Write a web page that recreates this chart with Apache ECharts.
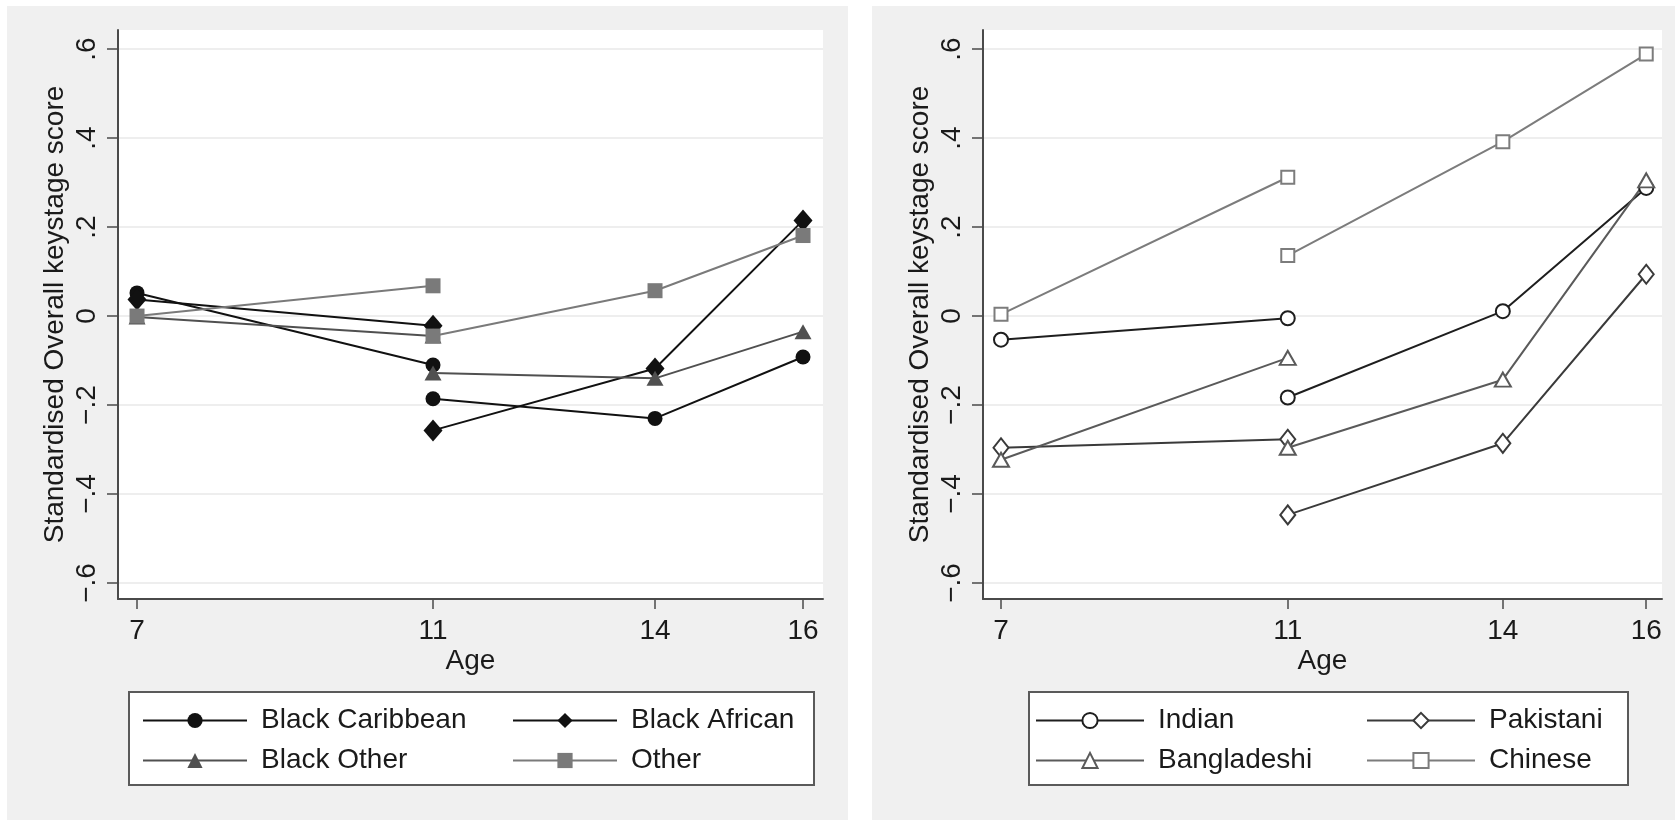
<!DOCTYPE html>
<html>
<head>
<meta charset="utf-8">
<title>Standardised keystage score by age</title>
<script src="https://cdn.jsdelivr.net/npm/echarts@6/dist/echarts.min.js"></script>
<style>
  html, body { margin: 0; padding: 0; background: #fff; }
  #main { width: 1675px; height: 820px; }
</style>
</head>
<body>
<div id="main"></div>
<script>
// ages of the two measurement runs (the line breaks at age 11)
var agesEarly = [7, 11];
var agesLate = [11, 14, 16];
var ageTicks = [7, 11, 14, 16];
var scoreTicks = [-0.6, -0.4, -0.2, 0, 0.2, 0.4, 0.6];

// left panel
var blackCaribbeanEarly = [0.052, -0.11];
var blackCaribbeanLate = [-0.186, -0.23, -0.092];
var blackAfricanEarly = [0.037, -0.022];
var blackAfricanLate = [-0.257, -0.118, 0.215];
var blackOtherEarly = [-0.002, -0.045];
var blackOtherLate = [-0.128, -0.14, -0.035];
var otherEarly = [0, 0.068];
var otherLate = [-0.045, 0.057, 0.181];

// right panel
var indianEarly = [-0.053, -0.005];
var indianLate = [-0.183, 0.011, 0.288];
var pakistaniEarly = [-0.296, -0.277];
var pakistaniLate = [-0.447, -0.286, 0.094];
var bangladeshiEarly = [-0.323, -0.094];
var bangladeshiLate = [-0.296, -0.143, 0.305];
var chineseEarly = [0.004, 0.312];
var chineseLate = [0.136, 0.392, 0.589];

var font = 'Liberation Sans';
var textColor = '#1a1a1a';
var axisColor = '#4a4a4a';

function segments(early, late) {
  var d = early.map(function (v, i) { return [agesEarly[i], v]; });
  d.push([agesLate[0], '-']);
  return d.concat(late.map(function (v, i) { return [agesLate[i], v]; }));
}

function scoreLabel(v) {
  if (Math.abs(v) < 1e-9) return '0';
  var s = Math.abs(v).toFixed(1).replace(/^0/, '');
  return v < 0 ? '\u2212' + s : s;
}

function makeSeries(name, idx, early, late, color, symbol, size, hollow) {
  return {
    name: name,
    type: 'line',
    xAxisIndex: idx,
    yAxisIndex: idx,
    data: segments(early, late),
    symbol: symbol,
    symbolSize: size,
    showAllSymbol: true,
    animation: false,
    lineStyle: { color: color, width: 2 },
    itemStyle: hollow ? { color: color, borderColor: color, borderWidth: 2 } : { color: color },
    emphasis: { disabled: true }
  };
}

function xAxisFor(idx, min, max) {
  return {
    type: 'value', gridIndex: idx, min: min, max: max,
    name: 'Age', nameLocation: 'middle', nameGap: 48, nameMoveOverlap: false,
    nameTextStyle: { fontFamily: font, fontSize: 28, color: textColor },
    axisLine: { onZero: false, lineStyle: { color: axisColor, width: 2 } },
    axisTick: { customValues: ageTicks, length: 10, lineStyle: { color: axisColor, width: 1.5 } },
    axisLabel: { customValues: ageTicks, margin: 18, fontFamily: font, fontSize: 28, color: textColor },
    splitLine: { show: false }
  };
}

function yAxisFor(idx) {
  return {
    type: 'value', gridIndex: idx, min: -0.636, max: 0.643,
    name: 'Standardised Overall keystage score', nameLocation: 'middle', nameRotate: 90, nameGap: 49,
    nameTextStyle: { fontFamily: font, fontSize: 28, color: textColor },
    axisLine: { show: true, lineStyle: { color: axisColor, width: 2 } },
    axisTick: { show: true, customValues: scoreTicks, length: 11, lineStyle: { color: axisColor, width: 1.5 } },
    axisLabel: { customValues: scoreTicks, rotate: 90, margin: 17, formatter: scoreLabel,
      fontFamily: font, fontSize: 28, color: textColor },
    splitLine: { show: true, lineStyle: { color: '#e8e8e8', width: 1.5 } }
  };
}

function legendFor(names, widths, left, padLeft, iconWidth, textPad) {
  return {
    data: names.map(function (n, i) { return { name: n, textStyle: { width: widths[i % 2] } }; }),
    left: left, top: 692, width: 700, orient: 'horizontal',
    padding: [14, 10, 10, padLeft], itemGap: 11, itemWidth: iconWidth, itemHeight: 19,
    backgroundColor: '#fff', borderColor: '#5a5a5a', borderWidth: 2,
    selectedMode: false,
    textStyle: { fontFamily: font, fontSize: 28, color: textColor, lineHeight: 29, padding: [0, 0, 0, textPad] }
  };
}

var chart = echarts.init(document.getElementById('main'), null, { renderer: 'canvas' });

var option = {
  backgroundColor: '#fff',
  animation: false,
  graphic: [
    { type: 'rect', z: -1, shape: { x: 7, y: 6, width: 841, height: 814 }, style: { fill: '#f0f0f0' }, silent: true },
    { type: 'rect', z: -1, shape: { x: 872, y: 6, width: 803, height: 814 }, style: { fill: '#f0f0f0' }, silent: true }
  ],
  grid: [
    { left: 118, top: 30, width: 705, height: 569, show: true, backgroundColor: '#fff', borderWidth: 0, outerBoundsMode: 'none' },
    { left: 983, top: 30, width: 679, height: 569, show: true, backgroundColor: '#fff', borderWidth: 0, outerBoundsMode: 'none' }
  ],
  xAxis: [xAxisFor(0, 6.743, 16.27), xAxisFor(1, 6.749, 16.22)],
  yAxis: [yAxisFor(0), yAxisFor(1)],
  legend: [
    legendFor(['Black Caribbean', 'Black African', 'Black Other', 'Other'], [240, 173], 129, 13, 104, 9),
    legendFor(['Indian', 'Pakistani', 'Bangladeshi', 'Chinese'], [197, 129], 1029, 6, 108, 9)
  ],
  series: [
    makeSeries('Black Caribbean', 0, blackCaribbeanEarly, blackCaribbeanLate, '#111111', 'circle', 15, false),
    makeSeries('Black African', 0, blackAfricanEarly, blackAfricanLate, '#111111', 'diamond', [19, 22], false),
    makeSeries('Black Other', 0, blackOtherEarly, blackOtherLate, '#505050', 'triangle', [17, 15], false),
    makeSeries('Other', 0, otherEarly, otherLate, '#7a7a7a', 'rect', 15, false),
    makeSeries('Indian', 1, indianEarly, indianLate, '#1e1e1e', 'emptyCircle', 14, true),
    makeSeries('Pakistani', 1, pakistaniEarly, pakistaniLate, '#3a3a3a', 'emptyDiamond', [15, 19], true),
    makeSeries('Bangladeshi', 1, bangladeshiEarly, bangladeshiLate, '#5a5a5a', 'emptyTriangle', [16, 14], true),
    makeSeries('Chinese', 1, chineseEarly, chineseLate, '#7c7c7c', 'emptyRect', 13, true)
  ]
};

chart.setOption(option);
</script>
</body>
</html>
